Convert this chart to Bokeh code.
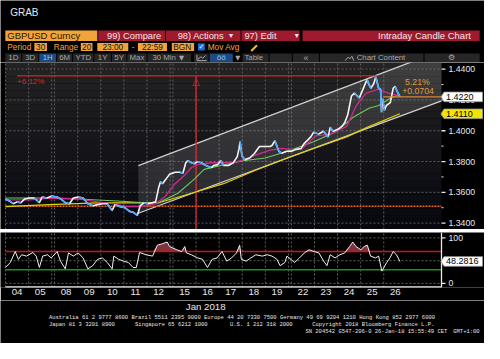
import numpy as np
from bokeh.plotting import figure
from bokeh.layouts import column
from bokeh.models import Range1d, FixedTicker
from bokeh.core.properties import value
from bokeh.embed import file_html
from bokeh.resources import INLINE

# ---------------- data ----------------
day_numbers = [4, 5, 8, 9, 10, 11, 12, 15, 16, 17, 18, 19, 22, 23, 24, 25, 26]
day_labels = ["04", "05", "08", "09", "10", "11", "12", "15", "16", "17",
              "18", "19", "22", "23", "24", "25", "26"]
month_label = "Jan 2018"

# hours since the start of the 04 Jan session (trading hours only)
price_t = [0, 4, 8, 12, 16, 20, 25, 30, 35, 38, 43, 47.5, 50.4, 54.4, 59.4, 63.5,
           67.5, 72.5, 77.6, 82.6, 87.6, 92.7, 97.7, 102.7, 107.8, 110.8, 115.8,
           120.9, 125.9, 129.9, 134, 137, 141, 145, 149, 153, 156.1, 158.1, 160.1,
           163.2, 167.5, 170.2, 175.3, 178.3, 181.3, 183.3, 187.3, 190.4, 193.4,
           197.4, 200.4, 204.5, 207.5, 210.5, 214.5, 217.6, 220.6, 225.6, 230.6,
           234.7, 236.7, 237.7, 239.7, 242.7, 247.8, 252.8, 257.8, 263.9, 268.9,
           270.9, 273.9, 278, 281, 286, 288.1, 293.1, 298.1, 301.2, 305.2, 308.2,
           311.2, 316.3, 321.3, 326.3, 328.3, 331.4, 336.4, 340.4, 343.5, 346.5,
           348.5, 350.5, 353.5, 356.5, 358.6, 361.6, 363.6, 366.6, 368.6, 370.6,
           373.7, 375.7, 378.7, 380.7, 381.7, 382.7, 384.7, 386.7, 390.8, 393.8,
           395.8, 397.8, 400.8]
price_close = [1.3557, 1.3544, 1.3526, 1.3538, 1.3532, 1.3557, 1.3563, 1.3563, 1.3532,
               1.3569, 1.3563, 1.3575, 1.3569, 1.3557, 1.3532, 1.3526, 1.3563, 1.3569,
               1.3563, 1.3526, 1.3513, 1.3520, 1.3526, 1.3526, 1.3482, 1.3520, 1.3507,
               1.3501, 1.3476, 1.3470, 1.3451, 1.3513, 1.3532, 1.3526, 1.3532, 1.3538,
               1.3631, 1.3668, 1.3656, 1.3681, 1.3718, 1.3730, 1.3730, 1.3724, 1.3792,
               1.3805, 1.3792, 1.3786, 1.3799, 1.3792, 1.3780, 1.3768, 1.3761, 1.3774,
               1.3780, 1.3805, 1.3774, 1.3774, 1.3792, 1.3830, 1.3885, 1.3929, 1.3836,
               1.3811, 1.3823, 1.3854, 1.3898, 1.3898, 1.3898, 1.3904, 1.3935, 1.3867,
               1.3854, 1.3867, 1.3867, 1.3879, 1.3885, 1.3916, 1.3941, 1.3960, 1.3991,
               1.3978, 1.3997, 1.3960, 1.4022, 1.3997, 1.4009, 1.4028, 1.4053, 1.4102,
               1.4164, 1.4226, 1.4245, 1.4226, 1.4214, 1.4257, 1.4288, 1.4332, 1.4301,
               1.4276, 1.4307, 1.4350, 1.4276, 1.4270, 1.4121, 1.4208, 1.4133, 1.4164,
               1.4183, 1.4276, 1.4288, 1.4257, 1.4220]

ma_fast_t = [0, 25.2, 47.5, 72.5, 92.7, 107.8, 122.9, 138, 153, 163.2, 170.2, 180.3,
             187.3, 193.4, 207.5, 220.6, 230.6, 240.7, 253.8, 267.9, 281, 288.1, 298.1,
             313.3, 328.3, 345.5, 355.5, 365.6, 378.7, 388.8, 396.8, 400.8]
ma_fast = [1.3551, 1.3551, 1.3563, 1.3557, 1.3538, 1.3526, 1.3507, 1.3507, 1.3526,
           1.3575, 1.3656, 1.3712, 1.3761, 1.3780, 1.3792, 1.3792, 1.3792, 1.3811,
           1.3842, 1.3873, 1.3885, 1.3879, 1.3879, 1.3966, 1.3978, 1.4028, 1.4164,
           1.4245, 1.4270, 1.4245, 1.4233, 1.4230]

ma_mid_t = [0, 35.2, 72.5, 112.8, 143, 156.1, 173.2, 190.4, 200.4, 217.6, 240.7, 263.9,
            287, 311.2, 335.4, 351.5, 368.6, 378.7, 391.8, 398.8, 400.8]
ma_mid = [1.3563, 1.3563, 1.3557, 1.3544, 1.3532, 1.3532, 1.3594, 1.3687, 1.3749,
          1.3774, 1.3805, 1.3823, 1.3867, 1.3929, 1.3997, 1.4084, 1.4146, 1.4164,
          1.4214, 1.4233, 1.4236]

ma_slow_t = [0, 45.3, 92.7, 122.9, 156.1, 187.3, 220.6, 253.8, 287, 311.2, 345.5,
             368.6, 385.8, 400.8]
ma_slow = [1.3507, 1.3520, 1.3532, 1.3532, 1.3532, 1.3594, 1.3656, 1.3743, 1.3823,
           1.3885, 1.3960, 1.4028, 1.4071, 1.4110]

rsi_t = [0, 5, 10.1, 13.4, 16.8, 21.8, 28.5, 31.9, 35.2, 38.6, 43.6, 47.5, 50.7, 54.1,
         59.1, 62.5, 67.5, 72.5, 77.6, 82.6, 87.6, 92.7, 97.7, 102.7, 107.8, 109.5,
         114.5, 119.5, 124.6, 129.6, 132.9, 136.3, 143, 149.8, 154.8, 159.8, 164.9,
         167.5, 171.9, 177, 180.3, 182, 187, 193.7, 198.7, 203.8, 208.8, 213.8, 218.9,
         223.9, 228.9, 234, 237.3, 239, 244, 249, 254.1, 260.9, 265.9, 270.9, 276,
         279.3, 284.3, 286.4, 291.4, 296.4, 301.5, 306.5, 311.5, 316.6, 321.6, 325,
         328.3, 333.4, 338.4, 343.5, 348.5, 351.8, 355.2, 360.2, 363.6, 366.9, 370.3,
         375.4, 378.7, 382, 387.1, 390.4, 393.8, 397.2, 400.8]
rsi_val = [35, 46, 70, 53, 63, 60, 68, 60, 35, 60, 63, 56, 70, 49, 32, 67, 60, 67, 56,
           32, 39, 53, 56, 46, 32, 60, 53, 49, 46, 35, 35, 68, 63, 60, 84, 87, 91, 81,
           74, 70, 81, 67, 63, 56, 53, 35, 53, 56, 70, 49, 56, 67, 84, 53, 49, 56, 63,
           60, 63, 60, 53, 39, 46, 60, 46, 56, 67, 74, 70, 67, 49, 39, 63, 56, 63, 67,
           81, 91, 81, 74, 81, 84, 60, 56, 60, 27, 46, 56, 70, 63, 48.2816]

channel_t = [135, 444]
channel_upper = [1.3774, 1.4521]
channel_lower = [1.3464, 1.4194]

measure_t = [12, 376.7]
measure_level = 1.4357
measure_label = "+6.12%"
marker_t = 192

support_level = 1.3509
last_price = 1.4220
last_line_t = 383.7
change_pct = "5.21%"
change_abs = "+0.0704"
slow_ma_last = 1.4110
rsi_last = 48.2816
rsi_upper, rsi_lower = 70, 30

price_ticks = [1.34, 1.36, 1.38, 1.40, 1.42, 1.44]
price_minor = [1.35, 1.37, 1.39, 1.41, 1.43]
rsi_ticks = [0, 100]
rsi_minor = [50]
rsi_grid = [0, 50, 100]

# ---------------- layout ----------------
W = 484
H_HEAD, H_PRICE, H_BAR, H_RSI_FRAME, H_XAX = 62, 167, 3, 55, 13
H_RSI = H_RSI_FRAME + H_XAX
H_FOOT = 343 - (H_HEAD + H_PRICE + H_BAR + H_RSI)
LB, RB = 5, 43
FW = W - LB - RB            # width of the data area in px
X_END = 453                 # data area spans x = 0 .. X_END
GAP = 3                     # weekend gap (hour units)
SPX = FW / X_END            # px per x unit
XL, XR = -LB / SPX, X_END + RB / SPX
PRICE_RANGE = (1.33584, 1.44434)
RSI_RANGE = (-9.0, 111.9)
PPY = H_PRICE / (PRICE_RANGE[1] - PRICE_RANGE[0])      # px per price unit
RPY = H_RSI_FRAME / (RSI_RANGE[1] - RSI_RANGE[0])      # px per RSI unit
FONT = "Liberation Sans"
MONO = "Liberation Mono"
BG = "#000000"
GRID = "#5e5e5e"
AXC = "#e8e8e8"

nd = len(day_numbers)
wk = np.cumsum([0] + [1 if b - a > 1 else 0 for a, b in zip(day_numbers[:-1], day_numbers[1:])])
day_start = np.arange(nd) * 24 + GAP * wk
day_center = [int(v) for v in day_start + 12]
boundaries = [float(v) for v in day_start] + \
    [float(day_start[i] + 24) for i in range(nd - 1) if wk[i + 1] > wk[i]]


def xmap(t):
    t = np.asarray(t, dtype=float)
    d = np.clip((t // 24).astype(int), 0, nd - 1)
    return t + GAP * wk[d]


def T(f, x, y, s, color, size, align="left", font=FONT, baseline="middle"):
    f.text(x=[x], y=[y], text=[s], text_color=color, text_font=value(font),
           text_font_size=value(f"{size}px"), text_align=align, text_baseline=baseline)


def canvas(height, y_top, y_bottom):
    f = figure(width=W, height=height, x_range=Range1d(0, 500), y_range=Range1d(y_bottom, y_top),
               x_axis_location=None, y_axis_location=None, output_backend="svg",
               toolbar_location=None, min_border=0, background_fill_color=BG,
               border_fill_color=BG, outline_line_color=None)
    for g in f.grid:
        g.visible = False
    return f


def box(f, l, r, t, b, color):
    f.quad(left=l, right=r, top=t, bottom=b, fill_color=color, line_color=None)


def right_scale(f, ticks, minor, labels, ppy):
    """tick marks and labels along the right edge of the data area"""
    f.segment(x0=[X_END] * len(ticks), y0=ticks, x1=[X_END + 4 / SPX] * len(ticks), y1=ticks,
              line_color=AXC, line_width=1.3)
    f.segment(x0=[X_END] * len(minor), y0=minor, x1=[X_END + 2 / SPX] * len(minor), y1=minor,
              line_color=AXC, line_width=1)
    f.text(x=[X_END + 7 / SPX] * len(ticks), y=ticks, text=labels, text_color=AXC,
           text_font=value(FONT), text_font_size=value("8.7px"), text_align="left",
           text_baseline="middle")


def value_box(f, v, label, fill, ppy):
    l, r = X_END + 2.5 / SPX, X_END + 41 / SPX
    hh = 4.8 / ppy
    f.patch(x=[l, l - 3 / SPX, l, r, r], y=[v + hh, v, v - hh, v - hh, v + hh],
            fill_color=fill, line_color="#9a9a9a", line_width=0.8)
    f.text(x=[l + 2 / SPX], y=[v], text=[label], text_color="#000000", text_font=value(FONT),
           text_font_size=value("9px"), text_align="left", text_baseline="middle")


# ---------------- header ----------------
h = canvas(H_HEAD, 0, 65)
ORANGE = "#f2a43a"
RED = "#9e1b2f"
T(h, 10, 12.5, "GRAB", "#e6e6e6", 10)
box(h, 5, 100, 31.5, 42.5, ORANGE)
T(h, 7, 37, "GBPUSD Curncy", "#2a1400", 9.5)
for l, r, s, tx in [(101, 170, "99) Compare", 110), (171, 248, "98) Actions", 183),
                    (249, 309, "97) Edit", 252)]:
    box(h, l, r, 31.5, 42.5, RED)
    T(h, tx, 37, s, "#f4e4e4", 9.3)
T(h, 236, 37, "\u25be", "#f4e4e4", 8, font="DejaVu Sans")
T(h, 304, 37, "\u25be", "#f4e4e4", 8, font="DejaVu Sans")
box(h, 312, 495, 31.5, 42.5, RED)
T(h, 486, 37, "Intraday Candle Chart", "#f4e4e4", 9.5, align="right")

T(h, 7, 48.8, "Period", ORANGE, 8.3)
for l, r, s in [(35, 48, "30"), (83, 95, "20"), (100, 132, "23:00"), (142, 172, "22:59")]:
    box(h, l, r, 44.5, 53, ORANGE)
    T(h, (l + r) / 2, 48.8, s, "#111111", 8.3, align="center")
T(h, 55, 48.8, "Range", ORANGE, 8.3)
T(h, 137, 48.8, "-", ORANGE, 8.3, align="center")
box(h, 177, 200, 44.5, 53, ORANGE)
T(h, 178.5, 48.8, "BGN", "#111111", 8.3)
box(h, 204, 211, 45, 52.5, "#1f6fd6")
T(h, 207.5, 48.8, "\u2713", "#ffffff", 7, align="center", font="DejaVu Sans")
T(h, 214, 48.8, "Mov Avg", ORANGE, 8.3)
h.segment(x0=[259], y0=[53], x1=[265], y1=[47], line_color="#f0c020", line_width=2)

CELL = "#262626"
CELLTXT = "#a8a8a8"
BLUE_CELL = "#1d4a80"
BLUE_TXT = "#9cc4f0"
for l, r, s, bg, fg in [(5, 21.5, "1D", CELL, CELLTXT), (22.5, 39, "3D", CELL, CELLTXT),
                        (40, 57.5, "1H", BLUE_CELL, BLUE_TXT), (58.5, 74, "6M", CELL, CELLTXT),
                        (75, 96, "YTD", CELL, CELLTXT), (97, 114, "1Y", CELL, CELLTXT),
                        (115, 130, "5Y", CELL, CELLTXT), (131, 151, "Max", CELL, CELLTXT)]:
    box(h, l, r, 55.5, 64.5, bg)
    T(h, (l + r) / 2, 60, s, fg, 7.8, align="center")
box(h, 152, 197, 55.5, 64.5, CELL)
T(h, 157, 60, "30 Min", CELLTXT, 7.8)
T(h, 187, 60, "\u25bc", CELLTXT, 6.5, align="center", font="DejaVu Sans")
box(h, 200, 215, 55.5, 64.5, CELL)
h.line(x=[203, 203, 213], y=[57, 63, 63], line_color=CELLTXT, line_width=1)
h.line(x=[204, 207, 209, 212], y=[61.5, 59, 60.5, 57.5], line_color=CELLTXT, line_width=1)
box(h, 216, 240, 55.5, 64.5, BLUE_CELL)
T(h, 228, 60, "\u00f6\u00f6", BLUE_TXT, 8, align="center")
T(h, 245, 60, "\u25bc", CELLTXT, 6.5, align="center", font="DejaVu Sans")
box(h, 250, 277, 55.5, 64.5, CELL)
T(h, 252, 60, "Table", CELLTXT, 7.8)
box(h, 278, 301, 55.5, 64.5, CELL)
box(h, 302, 329, 55.5, 64.5, CELL)
T(h, 315.5, 60, "\u00ab", CELLTXT, 9, align="center")
box(h, 330, 437, 55.5, 64.5, CELL)
h.line(x=[356, 359, 361, 363, 365], y=[63, 59.5, 61, 58.5, 63], line_color=CELLTXT, line_width=1)
T(h, 368, 60, "Chart Content", CELLTXT, 7.8)
box(h, 438, 495, 55.5, 64.5, CELL)
T(h, 466, 60, "\u2699", CELLTXT, 8, align="center", font="DejaVu Sans")

# ---------------- price panel ----------------
xr = Range1d(XL, XR)
pf = figure(width=W, height=H_PRICE, x_range=xr, y_range=Range1d(*PRICE_RANGE),
            x_axis_location=None, y_axis_location=None, output_backend="svg",
            toolbar_location=None, min_border=0, background_fill_color=BG,
            border_fill_color=BG, outline_line_color=None)
for g in pf.grid:
    g.visible = False

nb = 24
edges = np.linspace(PRICE_RANGE[0], PRICE_RANGE[1], nb + 1)
for i in range(nb):
    f = (i + 0.5) / nb  # 0 bottom .. 1 top
    c = (int(7 + (36 - 7) * f), int(7 + (36 - 7) * f), int(16 + (36 - 16) * f))
    pf.quad(left=0, right=X_END, bottom=edges[i], top=edges[i + 1],
            fill_color="#%02x%02x%02x" % c, line_color=None)

pf.segment(x0=[0] * len(price_ticks), y0=price_ticks, x1=[X_END] * len(price_ticks),
           y1=price_ticks, line_color=GRID, line_dash="2 2", line_width=1)
pf.segment(x0=boundaries, y0=[PRICE_RANGE[0]] * len(boundaries), x1=boundaries,
           y1=[PRICE_RANGE[1]] * len(boundaries), line_color=GRID, line_dash="2 2", line_width=1)

cx = xmap(channel_t)
pf.patch(x=[cx[0], cx[1], cx[1], cx[0]],
         y=[channel_upper[0], channel_upper[1], channel_lower[1], channel_lower[0]],
         fill_color="#a8a8a8", fill_alpha=0.2, line_color=None)
pf.line(x=cx, y=channel_upper, line_color="#d0d0d0", line_width=1.3)
pf.line(x=cx, y=channel_lower, line_color="#d0d0d0", line_width=1.3)

pf.segment(x0=[0], y0=[support_level], x1=[X_END], y1=[support_level], line_color="#e8641c",
           line_dash="2 1", line_width=1.6)

mx = xmap(measure_t)
pf.line(x=mx, y=[measure_level, measure_level], line_color="#d42a2a", line_width=1.3)
xm = float(xmap([marker_t])[0])
pf.segment(x0=[xm], y0=[measure_level], x1=[xm], y1=[PRICE_RANGE[0]], line_color="#d42a2a",
           line_width=1.3)
T(pf, xm, measure_level, "\u25b3", "#d42a2a", 10, align="center", font="DejaVu Sans",
  baseline="top")
T(pf, mx[0], measure_level - 1 / PPY, measure_label, "#d42a2a", 8, baseline="top")

pf.line(x=xmap(ma_slow_t), y=ma_slow, line_color="#e6d200", line_width=1.2)
pf.line(x=xmap(ma_mid_t), y=ma_mid, line_color="#6ccc5a", line_width=1.1)
pf.line(x=xmap(ma_fast_t), y=ma_fast, line_color="#d0288e", line_width=1.3)

px = xmap(price_t)
pc = np.asarray(price_close)
pf.line(x=px, y=pc, line_color="#f4f4f4", line_width=1.6)
dn = np.where(np.diff(pc) < 0)[0]
pf.segment(x0=px[dn], y0=pc[dn], x1=px[dn + 1], y1=pc[dn + 1], line_color="#4aa3ff",
           line_width=1.6)

pf.segment(x0=[float(xmap([last_line_t])[0])], y0=[last_price], x1=[X_END], y1=[last_price],
           line_color="#d4893a", line_width=1.2)
T(pf, (404.6 - LB) / SPX, last_price + 15 / PPY, change_pct, "#e09a40", 8.7)
T(pf, (401.7 - LB) / SPX, last_price + 5.5 / PPY, change_abs, "#e09a40", 8.7)

right_scale(pf, price_ticks, price_minor, [f"{v:.4f}" for v in price_ticks], PPY)
value_box(pf, last_price, f"{last_price:.4f}", "#ffffff", PPY)
value_box(pf, slow_ma_last, f"{slow_ma_last:.4f}", "#f2e600", PPY)

# ---------------- separator ----------------
bar = canvas(H_BAR, 0, 1)
box(bar, 5, 488, 0, 1, "#b0b0b0")

# ---------------- RSI panel ----------------
rf = figure(width=W, height=H_RSI, x_range=xr, y_range=Range1d(*RSI_RANGE),
            x_axis_location="below", y_axis_location=None, output_backend="svg",
            toolbar_location=None, min_border_left=0, min_border_right=0,
            min_border_top=0, min_border_bottom=H_XAX, background_fill_color=BG,
            border_fill_color=BG, outline_line_color=None)
for g in rf.grid:
    g.visible = False

rf.segment(x0=[0] * len(rsi_grid), y0=rsi_grid, x1=[X_END] * len(rsi_grid), y1=rsi_grid,
           line_color=GRID, line_dash="2 2", line_width=1)
rf.segment(x0=boundaries, y0=[RSI_RANGE[0]] * len(boundaries), x1=boundaries,
           y1=[RSI_RANGE[1]] * len(boundaries), line_color=GRID, line_dash="2 2", line_width=1)

rx = xmap(rsi_t)
rv = np.asarray(rsi_val, dtype=float)
rf.varea(x=rx, y1=np.full_like(rv, rsi_upper), y2=np.maximum(rv, rsi_upper),
         fill_color="#8a3440", fill_alpha=0.95)
rf.varea(x=rx, y1=np.minimum(rv, rsi_lower), y2=np.full_like(rv, rsi_lower),
         fill_color="#2a7a2a", fill_alpha=0.95)
rf.segment(x0=[0, 0], y0=[rsi_upper, rsi_lower], x1=[X_END, X_END], y1=[rsi_upper, rsi_lower],
           line_color=["#c8161e", "#1e8c1e"], line_width=1.6)
rf.line(x=rx, y=rv, line_color="#f0f0f0", line_width=1)

# frame lines of the data area (bottom and right)
rf.segment(x0=[0, X_END], y0=[RSI_RANGE[0], RSI_RANGE[0]], x1=[X_END, X_END],
           y1=[RSI_RANGE[0], RSI_RANGE[1]], line_color=AXC, line_width=[2.4, 1.3])

right_scale(rf, rsi_ticks, rsi_minor, [str(v) for v in rsi_ticks], RPY)
value_box(rf, rsi_last, f"{rsi_last:.4f}", "#ffffff", RPY)

xa = rf.xaxis[0]
xa.ticker = FixedTicker(ticks=day_center)
xa.major_label_overrides = {c: lab for c, lab in zip(day_center, day_labels)}
xa.axis_line_color = None
xa.major_tick_line_color = None
xa.minor_tick_line_color = None
xa.major_tick_out = 0
xa.major_tick_in = 0
xa.major_label_standoff = 1
xa.major_label_text_color = AXC
xa.major_label_text_font = FONT
xa.major_label_text_font_size = "9.7px"

# ---------------- footer ----------------
foot_top = 359 - H_FOOT / (343 / 359)
ft = canvas(H_FOOT, foot_top, 359)
T(ft, 212, 319.8, month_label, AXC, 9.7, align="center")
FOOT = "#e6e6e6"
FS = 5.5
T(ft, 50, 331.7, "Australia 61 2 9777 8600 Brazil 5511 2395 9000 Europe 44 20 7330 7500 "
                 "Germany 49 69 9204 1210 Hong Kong 852 2977 6000", FOOT, FS, font=MONO)
T(ft, 50, 339.3, "Japan 81 3 3201 8900", FOOT, FS, font=MONO)
T(ft, 139, 339.3, "Singapore 65 6212 1000", FOOT, FS, font=MONO)
T(ft, 237, 339.3, "U.S. 1 212 318 2000", FOOT, FS, font=MONO)
T(ft, 322, 339.3, "Copyright 2018 Bloomberg Finance L.P.", FOOT, FS, font=MONO)
T(ft, 315, 346.7, "SN 204542 G547-206-0 26-Jan-18 15:55:49 CET", FOOT, FS, font=MONO)
T(ft, 495, 346.7, "GMT+1:00", FOOT, FS, font=MONO, align="right")

page = column(h, pf, bar, rf, ft, spacing=0)
open("out.html", "w").write(file_html(page, INLINE))
